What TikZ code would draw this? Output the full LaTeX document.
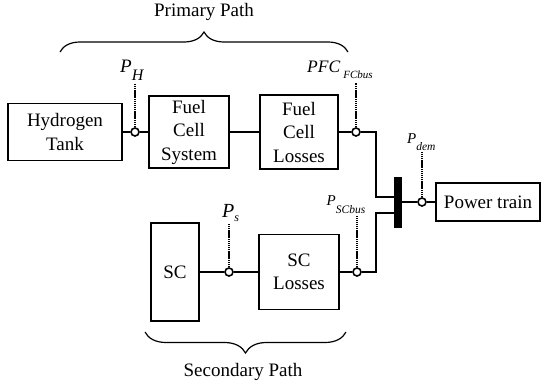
\documentclass[tikz,border=0pt]{standalone}
\usepackage{fontspec}
\setmainfont{Liberation Serif}
\newfontfamily\diagfont{Liberation Serif}
\usetikzlibrary{calc,positioning,decorations.pathreplacing}
\newcommand{\sigpow}[5]{\fontsize{#3}{#3}\selectfont\textit{#1}\raisebox{-#5pt}{\fontsize{#4}{#4}\selectfont\textit{#2}}}

\begin{document}
\begin{tikzpicture}[x=1pt,y=-1pt,font=\diagfont\fontsize{19}{23.5}\selectfont,
 block/.style={draw,line width=1.4pt,align=center,inner sep=0pt},
 port/.style={draw,circle,fill=white,line width=1.6pt,minimum size=8pt,inner sep=0pt},
 probe/.style={line width=2pt,dash pattern=on 1.4pt off 0.7pt},
 wire/.style={line width=1.3pt},
 lbl/.style={inner sep=0pt,anchor=base west}]
\useasboundingbox (0,0) rectangle (541,391);
% blocks
\node[block,minimum width=114pt,minimum height=57pt] (tank) at (65,132) {Hydrogen\\Tank};
\node[block,minimum width=80pt,minimum height=72pt] (fcs) at (189,132) {Fuel\\Cell\\System};
\node[block,minimum width=78pt,minimum height=74pt] (fcl) at (299,132) {Fuel\\Cell\\Losses};
\node[block,minimum width=48pt,minimum height=98pt] (sc) at (175,272) {SC};
\node[block,minimum width=80pt,minimum height=75pt] (scl) at (299,272) {SC\\Losses};
\node[block,minimum width=104pt,minimum height=38pt] (pt) at (488,202) {Power train};
\node[fill,minimum width=8pt,minimum height=51pt,inner sep=0pt] (bus) at (397.5,202) {};
% ports
\node[port] (ph) at (135,132) {};
\node[port] (pfc) at (356,132) {};
\node[port] (ps) at (229,272) {};
\node[port] (pscb) at (357,272) {};
\node[port] (pdem) at (422,202) {};
\coordinate (ph-top) at (135,84);
\coordinate (pfc-top) at (356,83);
\coordinate (ps-top) at (229,224);
\coordinate (pscb-top) at (357,216);
\coordinate (pdem-top) at (422,152);
\foreach \p in {ph,pfc,ps,pscb,pdem}
 \draw[probe] (\p) -- (\p-top);
% wires
\coordinate (bus-in1) at (393.5,197);
\coordinate (bus-in2) at (393.5,213);
\draw[wire] (tank) -- (ph) -- (fcs);
\draw[wire] (fcs) -- (fcl) -- (pfc);
\draw[wire] (sc) -- (ps) -- (scl) -- (pscb);
\draw[wire] (pfc) -- ++(20,0) |- (bus-in1);
\draw[wire] (pscb) -- ++(19,0) |- (bus-in2);
\draw[wire] (bus) -- (pdem) -- (pt);
% labels
\node[lbl] (ph-lbl) at (120,72) {\sigpow{P}{H}{19}{16}{8}};
\node[lbl] (pfc-lbl) at (307,72.5) {\sigpow{PFC}{\hspace{3pt}FCbus}{17.5}{11}{6}};
\node[lbl] (pdem-lbl) at (407,143) {\sigpow{P}{dem}{15}{11.5}{7}};
\node[lbl] (pscb-lbl) at (326.5,205) {\sigpow{P}{SCbus}{15}{11.5}{8}};
\node[lbl] (ps-lbl) at (222,217) {\sigpow{P}{s}{20}{12}{4}};
% paths
\draw[decorate,decoration={brace,amplitude=20pt},line width=1.2pt] (60,52) -- (348,52);
\draw[decorate,decoration={brace,amplitude=21pt,mirror},line width=1.2pt] (145,332) -- (346,332);
\node (prim) at (204,12) {Primary Path};
\node (sec) at (243,372) {Secondary Path};
\end{tikzpicture}
\end{document}
